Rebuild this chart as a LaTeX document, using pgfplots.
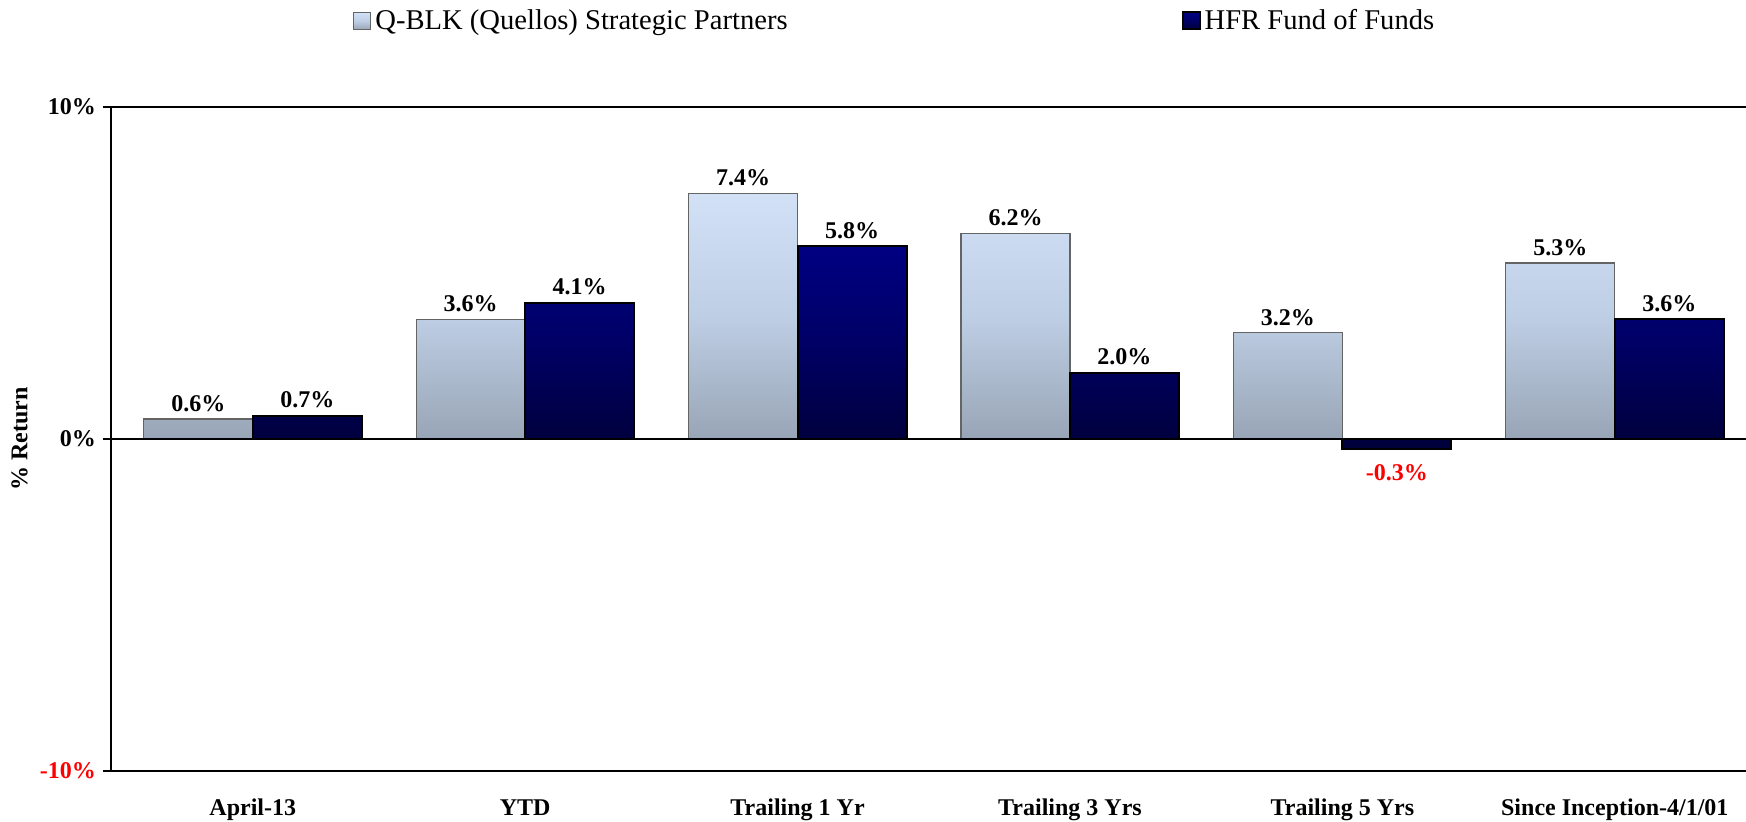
\documentclass[border=0pt]{standalone}
\usepackage{fontspec}
\setmainfont{Liberation Serif}
\usepackage{pgfplots}
\pgfplotsset{compat=1.18}
\definecolor{lighttop}{RGB}{210,225,246}
\definecolor{lightbot}{RGB}{152,165,182}
\definecolor{darktop}{RGB}{0,0,130}
\definecolor{darkbot}{RGB}{0,0,58}
\begin{document}
\begin{tikzpicture}
\useasboundingbox (-55.5pt,-25.5pt) rectangle (817.5pt,385.5pt);
\begin{axis}[
  at={(0,0)}, anchor=south west,
  scale only axis, width=820pt, height=332pt,
  xmin=-0.5205, xmax=5.5, ymin=-10, ymax=10,
  ybar, bar width=0.4,
  axis line style={black, line width=1pt},
  xtick={0,1,2,3,4,5},
  xticklabels={April-13, YTD, Trailing 1 Yr, Trailing 3 Yrs, Trailing 5 Yrs, Since Inception-4/1/01},
  major x tick style={draw=none},
  xticklabel style={anchor=base, yshift=-18.5pt, font=\bfseries\fontsize{12}{14}\selectfont},
  ytick={-10,0,10},
  yticklabels={{\color{red}-10\%},0\%,10\%},
  yticklabel style={font=\bfseries\fontsize{12}{14}\selectfont},
  ytick pos=left, tick align=outside, major tick length=4pt,
  major y tick style={black, line width=0.8pt},
  /pgf/number format/assume math mode=true,
  every axis y label/.style={at={(axis description cs:-0.0557,0.5)}, rotate=90, anchor=center, font=\bfseries\fontsize{12}{14}\selectfont},
  ylabel={\% Return},
  nodes near coords={\pgfmathprintnumber[fixed,fixed zerofill,precision=1]{\pgfplotspointmeta}\%},
  visualization depends on={y \as \rawy},
  every node near coord/.append style={font=\bfseries\fontsize{12}{14}\selectfont, text=black},
  every node near coord/.append code={\pgfmathparse{\rawy<0}\ifnum\pgfmathresult=1\relax\pgfkeysalso{/tikz/text=red,/tikz/yshift=-4pt}\fi},
  legend columns=2,
  legend style={at={(axis description cs:0.1438,1.1295)}, anchor=west, draw=none, fill=none,
    font=\fontsize{14.3}{16}\selectfont, cells={anchor=west},
    /tikz/every even column/.append style={column sep=195pt}},
  legend image code/.code={\draw[#1] (0pt,-4.25pt) rectangle (8.5pt,4.25pt);},
]
\addplot[bar shift=-0.2, draw={rgb,255:red,100;green,100;blue,100}, line width=0.6pt, top color=lighttop, bottom color=lightbot, middle color={rgb,255:red,190;green,206;blue,228}]
  coordinates {(0,0.6) (1,3.6) (2,7.4) (3,6.2) (4,3.2) (5,5.3)};
\addlegendentry{Q-BLK (Quellos) Strategic Partners}
\addplot[bar shift=0.2, draw=black, line width=1pt, top color=darktop, bottom color=darkbot, middle color={rgb,255:red,0;green,0;blue,100}]
  coordinates {(0,0.7) (1,4.1) (2,5.8) (3,2.0) (4,-0.3) (5,3.6)};
\addlegendentry{HFR Fund of Funds}
\draw[black, line width=0.8pt] (axis cs:-0.6,0) -- (axis cs:5.6,0);
\end{axis}
\end{tikzpicture}
\end{document}
